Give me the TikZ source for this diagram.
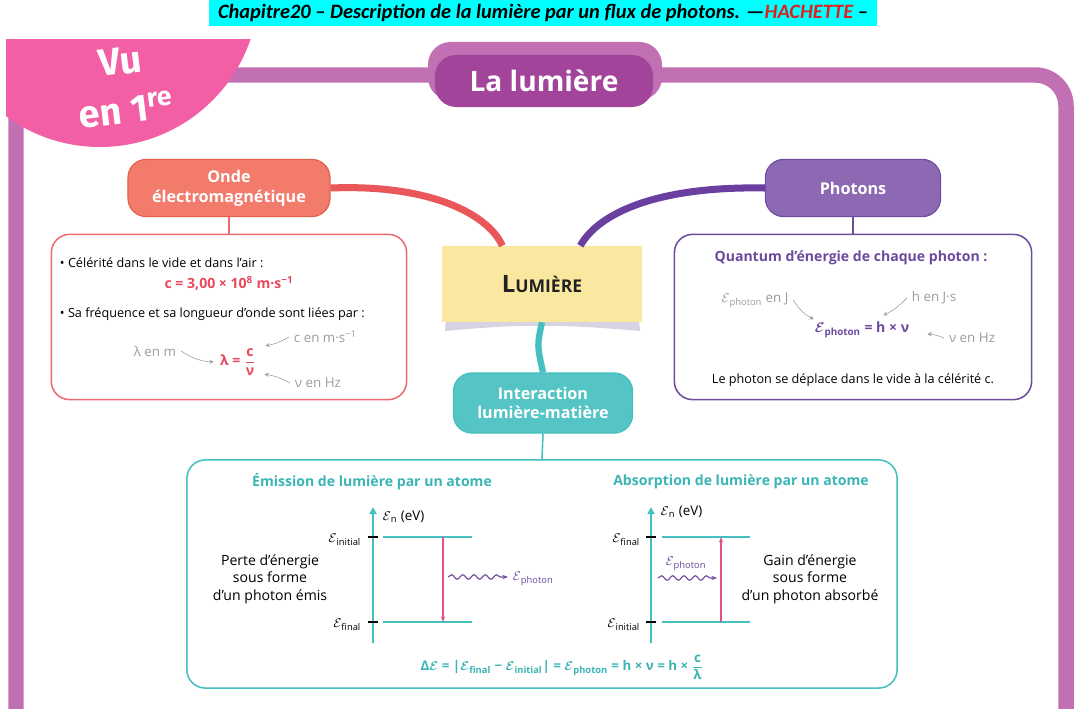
\documentclass[tikz,border=0pt]{standalone}
\usepackage{fontspec}
\usepackage{amsmath}
\usepackage{bm}
\setmainfont{Open Sans}
\newfontfamily\headfont{Carlito}
\newfontfamily\vufont{Fira Sans}
\usetikzlibrary{arrows.meta,decorations.pathmorphing}

\definecolor{bandeau}{HTML}{00FFFF}
\definecolor{cadre}{HTML}{C170B4}
\definecolor{titre}{HTML}{A3449B}
\definecolor{rose}{HTML}{F25FA5}
\definecolor{saumon}{HTML}{F27B6C}
\definecolor{saumonbord}{HTML}{E0604F}
\definecolor{rouge}{HTML}{E9575B}
\definecolor{rougebord}{HTML}{EC6B73}
\definecolor{rougetexte}{HTML}{E8485A}
\definecolor{violet}{HTML}{8D68B3}
\definecolor{violetbord}{HTML}{6E4C9C}
\definecolor{violetlien}{HTML}{6B3FA0}
\definecolor{violettexte}{HTML}{6B4A9E}
\definecolor{jaune}{HTML}{FBE8A0}
\definecolor{ombre}{HTML}{D6D3E2}
\definecolor{noir}{HTML}{222222}
\definecolor{turquoise}{HTML}{45BFC0}
\definecolor{turquoisefond}{HTML}{55C4C4}
\definecolor{turquoisetexte}{HTML}{3BB4B4}
\definecolor{gris}{HTML}{9B9B9B}
\definecolor{fleche}{HTML}{E0508A}
\definecolor{hachette}{HTML}{E0201E}

\newcommand{\corps}{\fontsize{9.5}{11.5}\selectfont}
\newcommand{\petit}{\fontsize{9}{11}\selectfont}
\newcommand{\gras}{\bfseries\fontsize{10}{12}\selectfont}
\newcommand{\En}[1]{$\mathcal{E}$\textsubscript{#1}}
\newcommand{\Eb}[1]{$\bm{\mathcal{E}}$\textsubscript{#1}}

\begin{document}
\begin{tikzpicture}
    [x=0.025cm,y=-0.025cm,font=\corps,
     theme/.style={rounded corners=13pt,draw,line width=0.8pt,text=white,align=center,
       font=\bfseries\fontsize{11.5}{14}\selectfont},
     cadrebox/.style={rounded corners=13pt,draw,line width=1.1pt},
     annot/.style={->,>=stealth,gris,thin,shorten >=1pt},
     niveau/.style={turquoise,line width=1pt},
     trait/.style={black,line width=1.4pt},
     axe/.style={turquoise,line width=1.6pt,-{Triangle[length=5pt,width=5pt]}},
     saut/.style={fleche,line width=1pt,-{Stealth[length=4pt]}},
     vague/.style={violettexte,line width=0.8pt,decorate,
       decoration={snake,amplitude=1.6pt,segment length=8pt,post length=3pt},
       -{Stealth[length=4pt]}}]
  \useasboundingbox (0,0) rectangle (1090,709);
  % bandeau
  \node [fill=bandeau,minimum width=16.68cm,minimum height=0.65cm,inner sep=0pt,
    font=\headfont\bfseries\itshape\fontsize{14.5}{16}\selectfont] (entete) at (543,13)
    {Chapitre20 – Description de la lumière par un flux de photons. —\textcolor{hachette}{HACHETTE} –};
  % cadre et titre
  \draw [cadre,line width=11pt,rounded corners=22pt] (16,709) -- (16,75) -- (1066,75) -- (1066,709);
  \fill [cadre,rounded corners=16pt] (428,42) rectangle (662,100);
  \node [fill=titre,rounded corners=15pt,minimum width=5.45cm,minimum height=1.3cm,
    text=white,font=\bfseries\fontsize{20}{24}\selectfont] (titre) at (544,81) {La lumière};
  \begin{scope}
    \clip (6,40) rectangle (400,400);
    \fill [rose] (100,-12) circle (159);
  \end{scope}
  \node [rotate=7,inner sep=0pt,align=center,text=white,
    font=\vufont\bfseries\fontsize{27}{35}\selectfont] (vu) at (123,86) {Vu\\en 1\textsuperscript{re}};
  % themes
  \node [theme,fill=saumon,draw=saumonbord,minimum width=5.05cm,minimum height=1.43cm] (OE) at (229,188) {Onde\\électromagnétique};
  \node [theme,fill=violet,draw=violetbord,minimum width=4.38cm,minimum height=1.43cm] (Ph) at (853,188) {Photons};
  \fill [ombre] (446,318) -- (639,318) -- (640,331) .. controls (560,324) and (520,324) .. (445,331) -- cycle;
  \node [fill=jaune,minimum width=4.98cm,minimum height=1.9cm,text=noir,
    font=\bfseries\fontsize{17}{20}\selectfont] (Lum) at (542,284) {L{\fontsize{12.5}{15}\selectfont UMIÈRE}};
  \node [theme,fill=turquoisefond,draw=turquoise,minimum width=4.48cm,minimum height=1.5cm] (Int) at (543,403) {Interaction\\lumière-matière};
  \draw [rouge,line width=5pt] (OE.east) .. controls (430,184) and (488,214) .. (Lum.136);
  \draw [violetlien,line width=5pt] (Ph.west) .. controls (655,186) and (598,214) .. (Lum.45);
  \draw [turquoise,line width=4.5pt] (Lum.south) .. controls (537,345) .. (Int.north);
  % onde electromagnetique
  \node [cadrebox,draw=rougebord,minimum width=8.88cm,minimum height=4.13cm] (BoxOE) at (229,317) {};
  \draw [rougebord,line width=1.1pt] (OE.south) -- (BoxOE.north);
  \node [anchor=west,font=\petit] (cel) at (55,263) {• Célérité dans le vide et dans l’air :};
  \node [text=rougetexte,font=\gras] (cval) at (229,283) {c = 3,00 × 10\textsuperscript{8} m·s\textsuperscript{−1}};
  \node [anchor=west,font=\petit] (freq) at (55,314) {• Sa fréquence et sa longueur d’onde sont liées par :};
  \node [text=rougetexte,font=\gras] (lambda) at (238,362) {λ = $\dfrac{\text{c}}{\text{ν}}$};
  \node [gris,anchor=east] (lm) at (181,351) {λ en m};
  \node [gris,anchor=west] (cu) at (289,337) {c en m·s\textsuperscript{−1}};
  \node [gris,anchor=west] (nu) at (290,383) {ν en Hz};
  \coordinate (cpt) at (264,346);
  \coordinate (nupt) at (263,374);
  \draw [annot] (lm.east) to [bend right=15] (lambda.west);
  \draw [annot] (cu.west) to [bend left=10] (cpt);
  \draw [annot] (nu.west) to [bend right=10] (nupt);
  % photons
  \node [cadrebox,draw=violetbord,minimum width=8.93cm,minimum height=4.13cm] (BoxPh) at (853,317) {};
  \draw [violetbord,line width=1.1pt] (Ph.south) -- (BoxPh.north);
  \node [text=violettexte,font=\gras] (quantum) at (851,258) {Quantum d’énergie de chaque photon :};
  \node [gris] (ephj) at (755,300) {\En{photon} en J};
  \node [gris] (hjs) at (934,298) {h en J·s};
  \node [text=violettexte,font=\gras] (ephot) at (862,330) {\Eb{photon} = h × ν};
  \node [gris] (nuhz) at (972,338) {ν en Hz};
  \node [font=\petit] (deplace) at (853,380) {Le photon se déplace dans le vide à la célérité c.};
  \coordinate (ept) at (815,320);
  \coordinate (hpt) at (882,316);
  \coordinate (nupt2) at (926,334);
  \draw [annot] (ephj.east) to [bend right=15] (ept);
  \draw [annot] (hjs.west) to [bend left=10] (hpt);
  \draw [annot] (nuhz.west) to [bend right=10] (nupt2);
  % interaction lumiere-matiere
  \node [cadrebox,draw=turquoise,minimum width=17.75cm,minimum height=5.7cm] (BoxInt) at (542,574) {};
  \draw [turquoise,line width=1.1pt] (Int.south) -- (BoxInt.north);
  \node [text=turquoisetexte,font=\gras] (emi) at (372,482) {Émission de lumière par un atome};
  \node [text=turquoisetexte,font=\gras] (abs) at (741,482) {Absorption de lumière par un atome};
  % emission
  \draw [axe] (373,643) -- (373,507);
  \node [anchor=west] (en1) at (378,517) {\En{n} (eV)};
  \draw [trait] (368,537) -- (378,537);
  \draw [trait] (368,622) -- (378,622);
  \draw [niveau] (383,537) -- (472,537);
  \draw [niveau] (383,622) -- (472,622);
  \node [anchor=east] (ei1) at (366,540) {\En{initial}};
  \node [anchor=east] (ef1) at (366,625) {\En{final}};
  \draw [saut] (443,537) -- (443,622);
  \draw [vague] (448,577) -- (508,577);
  \node [anchor=west,text=violettexte] (ep1) at (508,579) {\En{photon}};
  \node [align=center,font=\fontsize{10}{12.5}\selectfont] (perte) at (270,579) {Perte d’énergie\\sous forme\\d’un photon émis};
  % absorption
  \draw [axe] (651,643) -- (651,507);
  \node [anchor=west] (en2) at (656,512) {\En{n} (eV)};
  \draw [trait] (646,537) -- (656,537);
  \draw [trait] (646,622) -- (656,622);
  \draw [niveau] (662,537) -- (750,537);
  \draw [niveau] (662,622) -- (750,622);
  \node [anchor=east] (ef2) at (645,540) {\En{final}};
  \node [anchor=east] (ei2) at (645,625) {\En{initial}};
  \draw [saut] (721,622) -- (721,537);
  \draw [vague] (658,578) -- (717,578);
  \node [text=violettexte] (ep2) at (686,564) {\En{photon}};
  \node [align=center,font=\fontsize{10}{12.5}\selectfont] (gain) at (810,579) {Gain d’énergie\\sous forme\\d’un photon absorbé};
  % bilan
  \node [text=turquoisetexte,font=\bfseries\corps] (bilan) at (562,667)
    {Δ$\bm{\mathcal{E}}$ = |\Eb{final} − \Eb{initial}| = \Eb{photon} = h × ν = h × $\dfrac{\text{c}}{\text{λ}}$};
\end{tikzpicture}
\end{document}
